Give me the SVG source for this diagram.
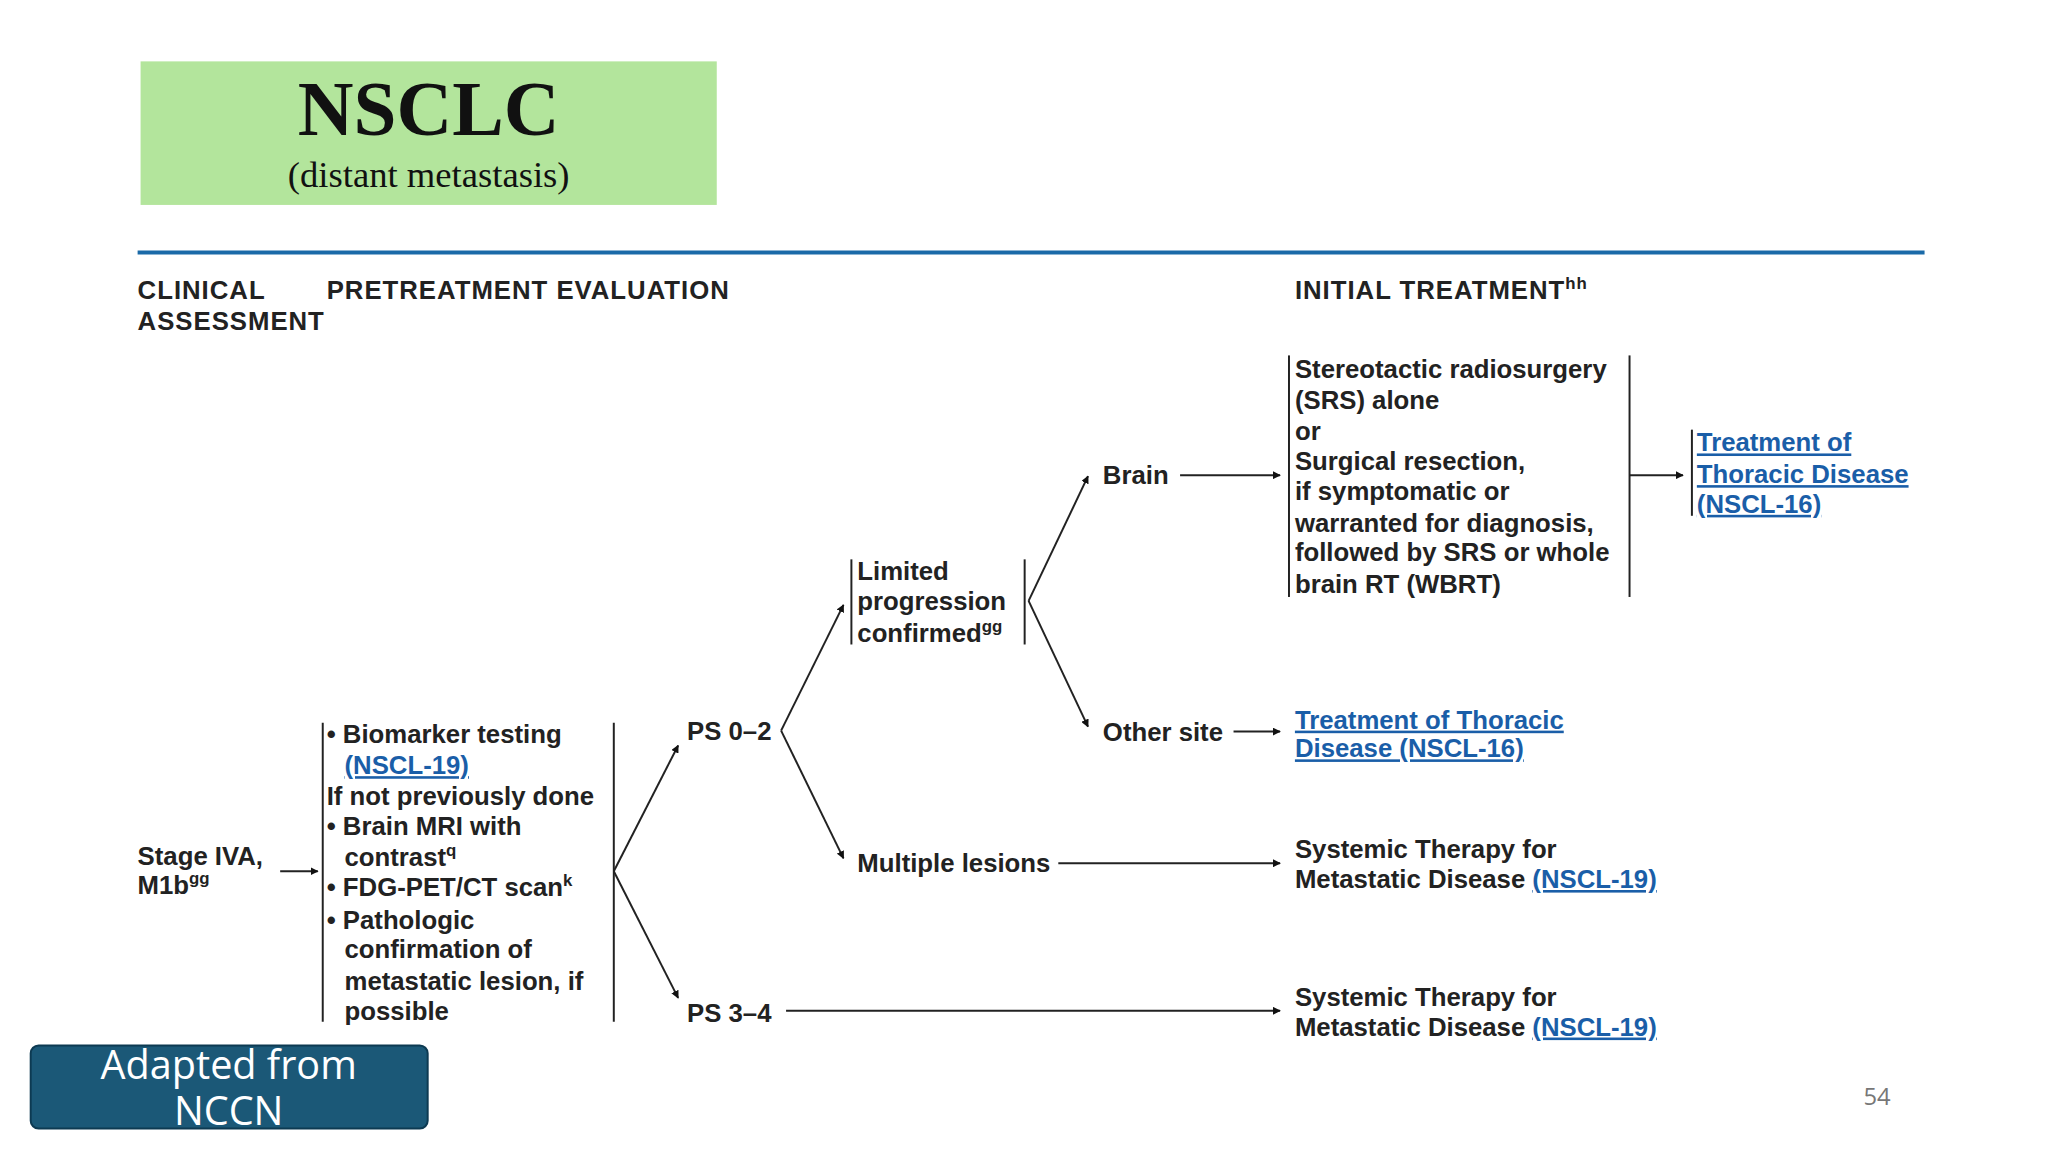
<svg xmlns="http://www.w3.org/2000/svg" width="2048" height="1152" viewBox="0 0 2048 1152">
<defs>
<marker id="ah" viewBox="0 0 10 10" refX="9" refY="5" markerWidth="8" markerHeight="8" markerUnits="userSpaceOnUse" orient="auto"><path d="M0,0 L10,5 L0,10 z" fill="#111"/></marker>
<style>
.t{font-family:"Liberation Sans",Arial,sans-serif;font-weight:bold;font-size:26px;fill:#222}
.h{font-family:"Liberation Sans",Arial,sans-serif;font-weight:bold;font-size:26px;fill:#222;letter-spacing:1px}
.l{fill:#1a5ea8;text-decoration:underline}
.ln{stroke:#222;stroke-width:2;fill:none}
.ar{stroke:#222;stroke-width:2;fill:none;marker-end:url(#ah)}
.sup{font-size:17px}
</style>
</defs>
<rect width="2048" height="1152" fill="#fff"/>
<g transform="scale(0.99)">
<g id="title">
<rect x="142" y="62" width="582" height="145" fill="#b3e59c"/>
<text x="433" y="136" text-anchor="middle" font-family="Liberation Serif,serif" font-weight="bold" font-size="78" fill="#111">NSCLC</text>
<text x="433" y="189" text-anchor="middle" font-family="Liberation Serif,serif" font-size="37" fill="#111">(distant metastasis)</text>
</g>
<line x1="139" y1="255" x2="1944" y2="255" stroke="#1a6aa8" stroke-width="4"/>
<g id="headers">
<text class="h" x="139" y="302">CLINICAL</text>
<text class="h" x="139" y="333">ASSESSMENT</text>
<text class="h" x="330" y="302">PRETREATMENT EVALUATION</text>
<text class="h" x="1308" y="302">INITIAL TREATMENT<tspan class="sup" dy="-10">hh</tspan></text>
</g>
<g id="stage">
<text class="t" x="139" y="874">Stage IVA,</text>
<text class="t" x="139" y="903">M1b<tspan class="sup" dy="-10">gg</tspan></text>
</g>
<g id="pretreat">
<line class="ln" x1="326" y1="730" x2="326" y2="1032"/>
<line class="ln" x1="620" y1="730" x2="620" y2="1032"/>
<text class="t" x="330" y="751">• Biomarker testing</text>
<text class="t l" x="348" y="782">(NSCL-19)</text>
<text class="t" x="330" y="813">If not previously done</text>
<text class="t" x="330" y="843">• Brain MRI with</text>
<text class="t" x="348" y="875">contrast<tspan class="sup" dy="-10">q</tspan></text>
<text class="t" x="330" y="905">• FDG-PET/CT scan<tspan class="sup" dy="-10">k</tspan></text>
<text class="t" x="330" y="938">• Pathologic</text>
<text class="t" x="348" y="968">confirmation of</text>
<text class="t" x="348" y="1000">metastatic lesion, if</text>
<text class="t" x="348" y="1030">possible</text>
</g>
<g id="ps02"><text class="t" x="694" y="747">PS 0–2</text></g>
<g id="ps34"><text class="t" x="694" y="1032">PS 3–4</text></g>
<g id="limited">
<line class="ln" x1="860" y1="565" x2="860" y2="651"/>
<line class="ln" x1="1035" y1="565" x2="1035" y2="651"/>
<text class="t" x="866" y="586">Limited</text>
<text class="t" x="866" y="616">progression</text>
<text class="t" x="866" y="648">confirmed<tspan class="sup" dy="-10">gg</tspan></text>
</g>
<g id="brain"><text class="t" x="1114" y="489">Brain</text></g>
<g id="othersite"><text class="t" x="1114" y="748">Other site</text></g>
<g id="multiple"><text class="t" x="866" y="881">Multiple lesions</text></g>
<g id="srs">
<line class="ln" x1="1302" y1="359" x2="1302" y2="603"/>
<line class="ln" x1="1646" y1="359" x2="1646" y2="603"/>
<text class="t" x="1308" y="382">Stereotactic radiosurgery</text>
<text class="t" x="1308" y="413">(SRS) alone</text>
<text class="t" x="1308" y="444">or</text>
<text class="t" x="1308" y="475">Surgical resection,</text>
<text class="t" x="1308" y="505">if symptomatic or</text>
<text class="t" x="1308" y="537">warranted for diagnosis,</text>
<text class="t" x="1308" y="567">followed by SRS or whole</text>
<text class="t" x="1308" y="599">brain RT (WBRT)</text>
</g>
<g id="thoracic1">
<line class="ln" x1="1709" y1="434" x2="1709" y2="521"/>
<text class="t l" x="1714" y="456">Treatment of </text>
<text class="t l" x="1714" y="488">Thoracic Disease </text>
<text class="t l" x="1714" y="518">(NSCL-16)</text>
</g>
<g id="thoracic2">
<text class="t l" x="1308" y="736">Treatment of Thoracic </text>
<text class="t l" x="1308" y="765">Disease (NSCL-16)</text>
</g>
<g id="systemic1">
<text class="t" x="1308" y="867">Systemic Therapy for</text>
<text class="t" x="1308" y="897">Metastatic Disease <tspan class="l">(NSCL-19)</tspan></text>
</g>
<g id="systemic2">
<text class="t" x="1308" y="1016">Systemic Therapy for</text>
<text class="t" x="1308" y="1046">Metastatic Disease <tspan class="l">(NSCL-19)</tspan></text>
</g>
<g id="connectors">
<line class="ar" x1="283" y1="880" x2="321" y2="880"/>
<line class="ar" x1="620" y1="880" x2="685" y2="753"/>
<line class="ar" x1="620" y1="880" x2="685" y2="1008"/>
<line class="ar" x1="789" y1="738" x2="852" y2="611"/>
<line class="ar" x1="789" y1="738" x2="852" y2="867"/>
<line class="ar" x1="1039" y1="607" x2="1099" y2="481"/>
<line class="ar" x1="1039" y1="607" x2="1099" y2="734"/>
<line class="ar" x1="1192" y1="480" x2="1293" y2="480"/>
<line class="ar" x1="1646" y1="480" x2="1700" y2="480"/>
<line class="ar" x1="1246" y1="739" x2="1293" y2="739"/>
<line class="ar" x1="1069" y1="872" x2="1293" y2="872"/>
<line class="ar" x1="794" y1="1021" x2="1293" y2="1021"/>
</g>
<g id="adapted">
<rect x="31" y="1056" width="401" height="84" rx="8" fill="#1b5877" stroke="#0d3a52" stroke-width="2"/>
<text x="231" y="1090" text-anchor="middle" font-family="Open Sans,sans-serif" font-size="40" fill="#fff">Adapted from</text>
<text x="231" y="1136" text-anchor="middle" font-family="Open Sans,sans-serif" font-size="40" fill="#fff">NCCN</text>
</g>
<text x="1896" y="1116" text-anchor="middle" font-family="Open Sans,sans-serif" font-size="24" fill="#777">54</text>
</g>
</svg>
